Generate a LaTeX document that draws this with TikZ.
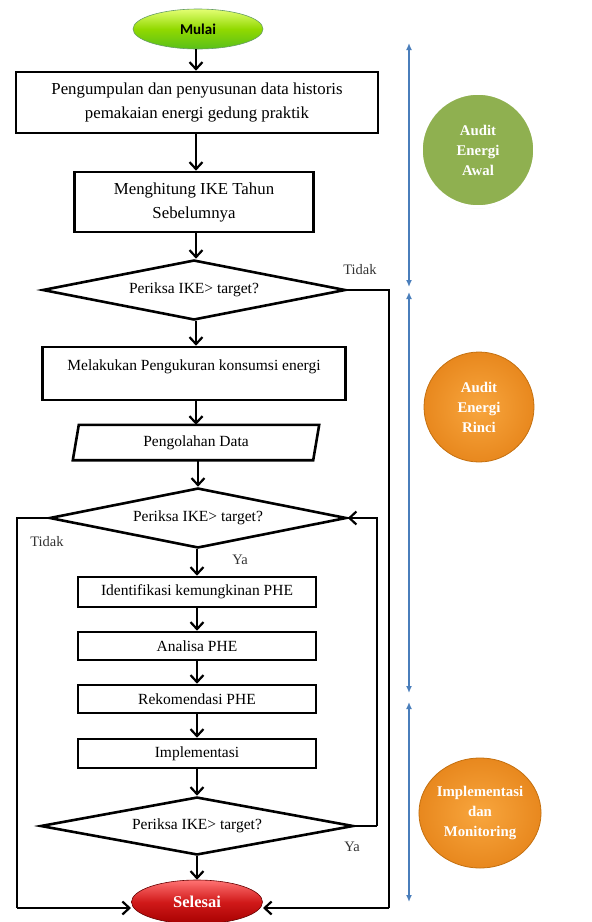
\documentclass[tikz,border=0pt]{standalone}
\usepackage{fontspec}
\setmainfont{Liberation Serif}
\newfontfamily\calibri{Carlito}
\usetikzlibrary{shapes.geometric,arrows.meta,calc,shadows}
\definecolor{bluearr}{HTML}{4A7EBB}
\definecolor{gcirc}{HTML}{8FB050}
\definecolor{oin}{HTML}{F8A63E}
\definecolor{oout}{HTML}{E8881E}
\definecolor{oline}{HTML}{C4700F}
\tikzset{
  box/.style={draw,line width=2.6pt,rectangle,minimum width=#1,inner sep=2pt,align=center,font=\fontsize{15.5}{24}\selectfont},
  bigtext/.style={font=\fontsize{16.8}{24}\selectfont},
  dia/.style={draw,line width=2.6pt,diamond,aspect=5,inner sep=0pt,font=\fontsize{15.5}{18}\selectfont},
  flow/.style={line width=2.6pt,-{Straight Barb[length=7pt,width=13pt,line width=2.2pt]}},
  loopl/.style={line width=2.6pt},
  lbl/.style={font=\fontsize{14.5}{17}\selectfont,text=black!80},
  phase/.style={bluearr,line width=1.6pt,{Latex[length=7pt,width=6pt]}-{Latex[length=7pt,width=6pt]}},
  circtext/.style={text=white,font=\bfseries\fontsize{14.8}{20}\selectfont,align=center},
  orangefill/.style={inner color=oin,outer color=oout,draw=oline,line width=0.8pt},
}
\begin{document}
\begin{tikzpicture}[x=1pt,y=-1pt]
\useasboundingbox (0,0) rectangle (592,922);
% terminators
\node[ellipse,minimum width=130pt,minimum height=40pt,draw=green!35!black!60,line width=0.6pt,
  top color=green!20!yellow!55!white,bottom color=green!45!olive!90,middle color=green!40!yellow!70!olive,
  font=\calibri\bfseries\fontsize{15}{18}\selectfont] (mulai) at (198,29) {Mulai};
\node[box,bigtext,minimum width=362pt,minimum height=61pt] (b1) at (197,102.5)
  {Pengumpulan dan penyusunan data historis\\pemakaian energi gedung praktik};
\node[box,bigtext,minimum width=239pt,minimum height=60pt] (b2) at (194,202)
  {Menghitung IKE Tahun\\Sebelumnya};
\node[dia,minimum width=303pt,minimum height=60pt] (d1) at (194,290) {Periksa IKE> target?};
\node[box,minimum width=303pt,minimum height=53pt,text depth=16pt] (b3) at (194,373.5)
  {Melakukan Pengukuran konsumsi energi};
\node[minimum width=240pt,minimum height=35pt,inner sep=0pt,font=\fontsize{15.5}{18}\selectfont] (pd) at (196,442.5) {Pengolahan Data};
\draw[line width=2.6pt,line join=miter]
  ($(pd.south west)+(-3,0)$) -- ($(pd.north west)+(3,0)$) -- ($(pd.north east)+(3,0)$) -- ($(pd.south east)+(-3,0)$) -- cycle;
\node[dia,minimum width=297pt,minimum height=60pt] (d2) at (198,518) {Periksa IKE> target?};
\node[box,minimum width=238pt,minimum height=30pt] (b4) at (197,592) {Identifikasi kemungkinan PHE};
\node[box,minimum width=238pt,minimum height=28pt] (b5) at (197,646) {Analisa PHE};
\node[box,minimum width=238pt,minimum height=28pt] (b6) at (197,699) {Rekomendasi PHE};
\node[box,minimum width=238pt,minimum height=29pt] (b7) at (197,753.5) {Implementasi};
\node[dia,minimum width=313pt,minimum height=58pt] (d3) at (197,826) {Periksa IKE> target?};
\node[ellipse,minimum width=131pt,minimum height=44pt,draw=red!40!black,line width=0.6pt,
  top color=red!55!white,bottom color=red!65!black,middle color=red!80!black!90,
  text=white,font=\bfseries\fontsize{16.5}{18}\selectfont] (sel) at (197,902) {Selesai};
% main flow
\draw[flow] (mulai.south -| 196,0) -- (b1.north -| 196,0);
\draw[flow] (b1.south -| 196,0) -- (b2.north -| 196,0);
\draw[flow] (b2.south -| 196,0) -- (d1.north -| 196,0);
\draw[flow] (d1.south -| 196,0) -- (b3.north -| 196,0);
\draw[flow] (b3.south -| 196,0) -- (pd.north -| 196,0);
\draw[flow] (pd.south -| 198,0) -- (d2.north -| 198,0);
\draw[flow] (d2.south -| 197,0) -- (b4.north -| 197,0);
\draw[flow] (b4.south -| 197,0) -- (b5.north -| 197,0);
\draw[flow] (b5.south -| 197,0) -- (b6.north -| 197,0);
\draw[flow] (b6.south -| 197,0) -- (b7.north -| 197,0);
\draw[flow] (b7.south -| 197,0) -- (d3.north -| 197,0);
\draw[flow] (d3.south -| 197,0) -- (sel.north -| 197,0);
% loops
\coordinate (rr) at (389,908);
\coordinate (ll) at (17,908);
\coordinate (rm) at (377,826);
\draw[loopl] (d1.east) -| (rr);
\draw[flow] (rr) -- (263,908);
\draw[loopl] (d2.west) -| (ll);
\draw[flow] (ll) -- (131,908);
\draw[loopl] (d3.east) -- (rm);
\draw[flow] (rm) |- (d2.east);
% labels
\node[lbl] (t1) at (360,270) {Tidak};
\node[lbl] (t2) at (47,542) {Tidak};
\node[lbl] (y1) at (240,560) {Ya};
\node[lbl] (y2) at (352,847) {Ya};
% phase arrows
\coordinate (p1a) at (409,43); \coordinate (p1b) at (409,287);
\coordinate (p2a) at (409,292); \coordinate (p2b) at (409,693);
\coordinate (p3a) at (409,702); \coordinate (p3b) at (409,902);
\draw[phase] (p1a) -- (p1b);
\draw[phase] (p2a) -- (p2b);
\draw[phase] (p3a) -- (p3b);
% phase circles
\node[circle,minimum size=114pt,fill=gcirc,draw=white,line width=3.5pt,
  drop shadow={opacity=0.25,shadow xshift=0pt,shadow yshift=-1.5pt},circtext] (c1) at (478,150) {Audit\\Energi\\Awal};
\node[circle,minimum size=110pt,orangefill,circtext] (c2) at (479,407) {Audit\\Energi\\Rinci};
\node[ellipse,minimum width=116pt,minimum height=110pt,orangefill,circtext,inner sep=0pt] (c3) at (480,813) {Implementasi\\dan\\Monitoring};
\end{tikzpicture}
\end{document}
